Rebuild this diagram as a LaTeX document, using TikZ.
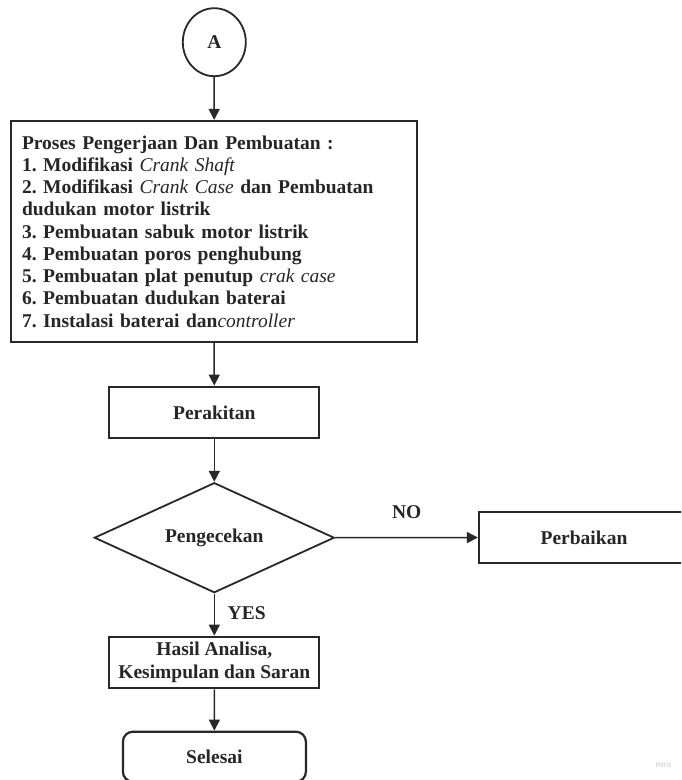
\documentclass[tikz,border=0pt]{standalone}
\usepackage{fontspec}
\setmainfont{Liberation Serif}
\newfontfamily\mirofont{Liberation Sans}
\usetikzlibrary{shapes.geometric,arrows.meta}
\definecolor{ink}{RGB}{40,40,40}
\definecolor{txt}{RGB}{38,38,38}
\definecolor{wm}{RGB}{200,200,208}
\frenchspacing
\tikzset{
  base/.style={draw=ink, text=txt, font=\fontsize{19.5}{22.25}\selectfont\bfseries, inner sep=2pt, align=center},
  boxnode/.style={base, rectangle, line width=2.2pt},
  bigbox/.style={base, rectangle, line width=2.2pt, align=left, text width=384pt, inner xsep=11pt, minimum width=406pt, minimum height=221pt},
  termnode/.style={base, rectangle, rounded corners=10pt, line width=2.2pt},
  decnode/.style={base, diamond, line width=1.8pt, aspect=2.18, inner sep=0pt},
  connode/.style={base, ellipse, line width=1.8pt, inner sep=0pt},
  lbl/.style={text=txt, font=\fontsize{19.5}{22.25}\selectfont\bfseries},
  conn/.style={draw=ink, line width=1.5pt, -{Triangle[length=11pt,width=11pt]}}
}
\newcommand{\itn}[1]{{\mdseries\itshape #1}}
\begin{document}
\begin{tikzpicture}[x=1pt,y=-1pt]
\useasboundingbox (0,0) rectangle (681,780);
\clip (0,0) rectangle (681,780);
\fill[white] (0,0) rectangle (681,780);

\node[connode, minimum width=63pt, minimum height=68pt] (A) at (214.3,42.2) {A};

\node[bigbox] (proc) at (214,231.5) {\frenchspacing Proses Pengerjaan Dan Pembuatan :\\
1. Modifikasi \itn{Crank Shaft}\\
2. Modifikasi \itn{Crank Case} dan Pembuatan\\
dudukan motor listrik\\
3. Pembuatan sabuk motor listrik\\
4. Pembuatan poros penghubung\\
5. Pembuatan plat penutup \itn{crak case}\\
6. Pembuatan dudukan baterai\\
7. Instalasi baterai dan\itn{controller}};

\node[boxnode, minimum width=210pt, minimum height=51.6pt] (rakit) at (214.3,412.5) {Perakitan};

\node[decnode, minimum width=240pt, minimum height=110pt] (cek) at (214.3,537.7) {Pengecekan};

\node[boxnode, minimum width=210pt, minimum height=51pt] (baik) at (584,537.5) {Perbaikan};

\node[boxnode, minimum width=210pt, minimum height=51.6pt] (hasil) at (214.3,662.5) {Hasil Analisa,\\[1pt]Kesimpulan dan Saran};

\node[termnode, minimum width=183pt, minimum height=50pt] (sel) at (214.4,756.7) {Selesai};

\node[lbl] (no) at (406.7,512) {NO};
\node[lbl] (yes) at (246.7,612.7) {YES};

\node[text=wm, font=\mirofont\fontsize{8}{9}\selectfont] (miro) at (663.3,764.3) {miro};

\draw[conn] (A) -- (proc);
\draw[conn] (proc) -- (rakit);
\draw[conn] (rakit) -- (cek);
\draw[conn] (cek) -- (baik);
\draw[conn] (cek) -- (hasil);
\draw[conn] (hasil) -- (sel);
\end{tikzpicture}
\end{document}
